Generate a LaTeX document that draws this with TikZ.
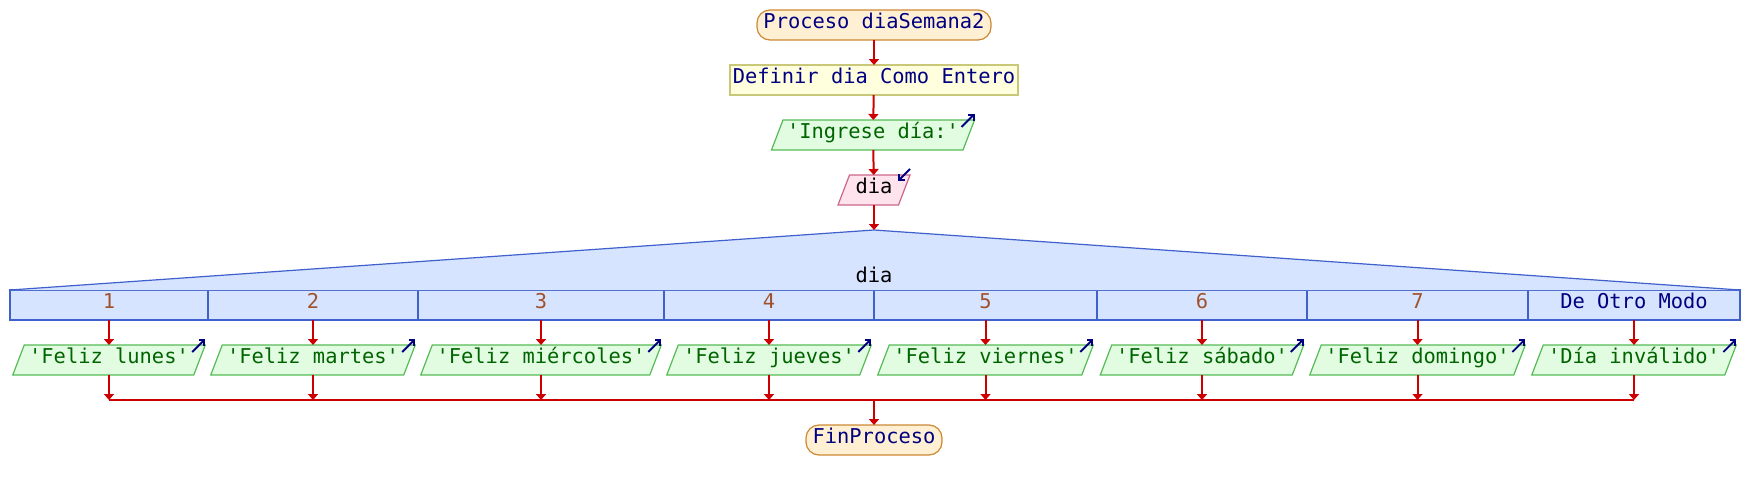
\documentclass[tikz,border=0pt]{standalone}
\usepackage{fontspec}
\setmonofont{DejaVu Sans Mono}
\usetikzlibrary{arrows.meta,backgrounds,calc}
\definecolor{flowred}{HTML}{CC0000}
\definecolor{termfill}{HTML}{FFF0D4}
\definecolor{termdraw}{HTML}{CC8833}
\definecolor{deffill}{HTML}{FFFFDD}
\definecolor{defdraw}{HTML}{C8C878}
\definecolor{outfill}{HTML}{E2FCE2}
\definecolor{outdraw}{HTML}{55BB55}
\definecolor{outgreen}{HTML}{006400}
\definecolor{infill}{HTML}{FFE4EE}
\definecolor{indraw}{HTML}{CC6688}
\definecolor{swfill}{HTML}{D6E4FF}
\definecolor{swdraw}{HTML}{4060CC}
\definecolor{casebrown}{HTML}{A0522D}
\definecolor{navyc}{HTML}{000080}
\newcommand\iogram[3]{%
  \begin{pgfonlayer}{background}
  \filldraw[fill=#2,draw=#3,line width=1.2pt]
    ($(#1.south west)+(-5.75,0)$) -- ($(#1.north west)+(5.75,0)$) --
    ($(#1.north east)+(5.75,0)$) -- ($(#1.south east)+(-5.75,0)$) -- cycle;
  \end{pgfonlayer}}
\newcommand\outmark[1]{\draw[ioarrow] ($(#1.north east)+(-7.25,7)$) -- ($(#1.north east)+(5.75,-6)$);}
\begin{document}
\begin{tikzpicture}[x=1pt,y=-1pt,
  font=\ttfamily\fontsize{20.4}{24}\selectfont,
  base/.style={inner sep=0pt, outer sep=0pt, text height=0.82em, text depth=0.18em, minimum height=30pt},
  term/.style={base, draw=termdraw, fill=termfill, rounded corners=13pt, line width=1.2pt, text=navyc},
  defbox/.style={base, draw=defdraw, fill=deffill, line width=1.2pt, text=navyc},
  gram/.style={base},
  outbox/.style={base, text=outgreen},
  cell/.style={base, draw=swdraw, fill=swfill, line width=1.2pt, text=casebrown},
  flow/.style={draw=flowred, line width=2pt, -{Triangle[length=6pt,width=10pt]}},
  joinline/.style={draw=flowred, line width=2pt},
  ioarrow/.style={draw=navyc, line width=1.8pt, -{Straight Barb[length=4pt,width=8pt]}}
]
\useasboundingbox (0,0) rectangle (1748,490);

% top chain
\node[term, minimum width=234pt] (start) at (874,25) {Proceso diaSemana2};
\node[defbox, minimum width=288pt] (def) at (874,80) {Definir dia Como Entero};
\node[outbox, minimum width=191.5pt] (ing) at (873,135) {'Ingrese día:'};
\iogram{ing}{outfill}{outdraw}
\outmark{ing}
\node[gram, minimum width=60.5pt, text=black] (rd) at (874,190) {dia};
\iogram{rd}{infill}{indraw}
\draw[ioarrow] ($(rd.north east)+(5.75,-6)$) -- ($(rd.north east)+(-6.25,6)$);
\coordinate (apex) at (874,230);

% case bar
\node[cell, minimum width=198pt] (c1) at (109,305) {1};
\node[cell, minimum width=210pt] (c2) at (313,305) {2};
\node[cell, minimum width=246pt] (c3) at (541,305) {3};
\node[cell, minimum width=210pt] (c4) at (769,305) {4};
\node[cell, minimum width=223pt] (c5) at (985.5,305) {5};
\node[cell, minimum width=210pt] (c6) at (1202,305) {6};
\node[cell, minimum width=221pt] (c7) at (1417.5,305) {7};
\node[cell, minimum width=212pt, text=navyc] (c8) at (1634,305) {De Otro Modo};

% switch triangle
\path[fill=swfill] (c1.north west) -- (apex) -- (c8.north east) -- cycle;
\draw[swdraw, line width=1.2pt] (c1.north west) -- (apex) -- (c8.north east);
\node[anchor=base, inner sep=0pt, text=black] (sw) at (874,282) {dia};

% outputs
\node[outbox, minimum width=181pt] (o1) at (109,360) {'Feliz lunes'};
\node[outbox, minimum width=193pt] (o2) at (313,360) {'Feliz martes'};
\node[outbox, minimum width=229pt] (o3) at (541,360) {'Feliz miércoles'};
\node[outbox, minimum width=193pt] (o4) at (769,360) {'Feliz jueves'};
\node[outbox, minimum width=204pt] (o5) at (985.5,360) {'Feliz viernes'};
\node[outbox, minimum width=192pt] (o6) at (1202,360) {'Feliz sábado'};
\node[outbox, minimum width=204pt] (o7) at (1417.5,360) {'Feliz domingo'};
\node[outbox, minimum width=193pt] (o8) at (1634,360) {'Día inválido'};
\foreach \n in {o1,o2,o3,o4,o5,o6,o7,o8} {\iogram{\n}{outfill}{outdraw}\outmark{\n}}

\node[term, minimum width=136pt] (fin) at (874,440) {FinProceso};
\coordinate (mc) at (874,400);

% connectors
\draw[flow] (start) -- (def);
\draw[flow] (def) -- (ing);
\draw[flow] (ing) -- (rd);
\draw[flow] (rd) -- (apex);
\foreach \i in {1,...,8} {
  \draw[flow] (c\i.south) -- (o\i.north);
  \draw[flow] (o\i.south) -- (o\i.south |- mc);
}
\draw[joinline] (o1.south |- mc) -- (o8.south |- mc);
\draw[flow] (mc) -- (fin);
\end{tikzpicture}
\end{document}
